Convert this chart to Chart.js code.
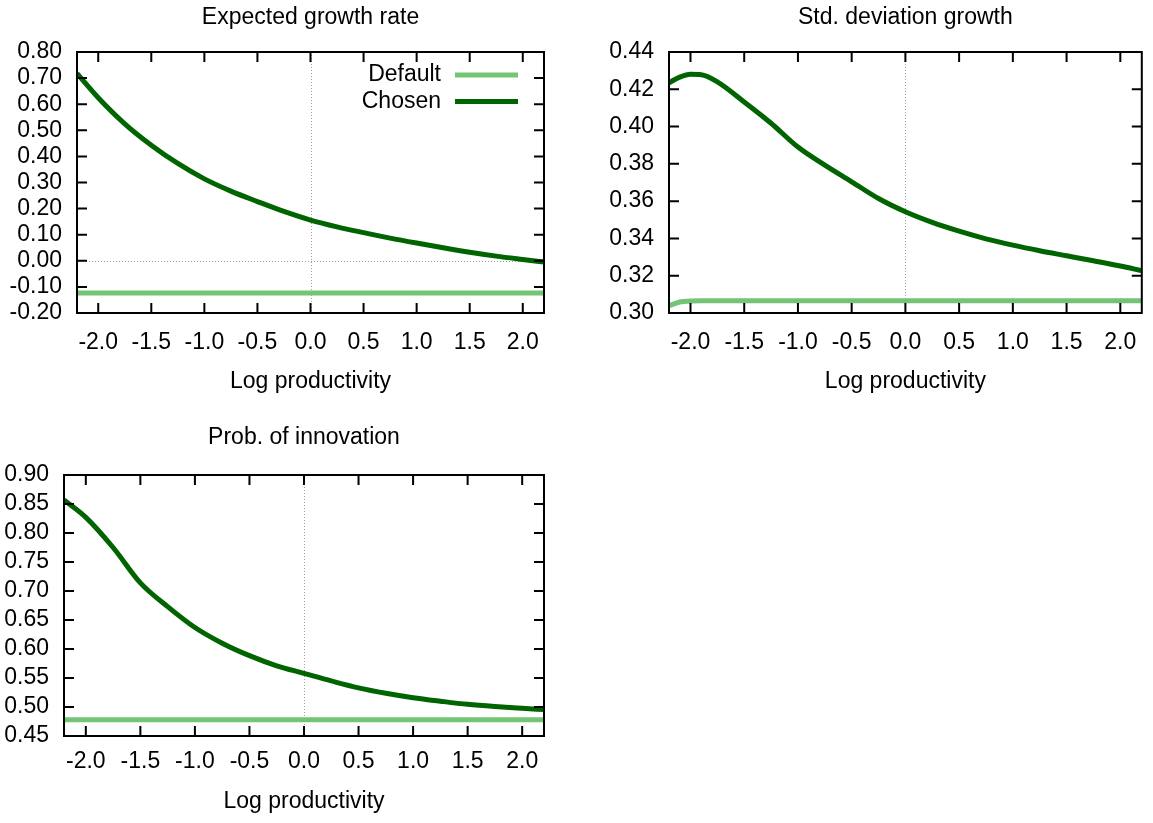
<!DOCTYPE html>
<html>
<head>
<meta charset="utf-8">
<script src="https://cdn.jsdelivr.net/npm/chart.js@4.4.1/dist/chart.umd.min.js"></script>
<style>
  body { margin: 0; background: #fff; width: 1153px; height: 823px; position: relative; overflow: hidden; }
  canvas { position: absolute; }
</style>
</head>
<body>
<canvas id="growth" width="560" height="400" style="left:0;top:0"></canvas>
<canvas id="stdev" width="563" height="400" style="left:590px;top:0"></canvas>
<canvas id="innov" width="560" height="403" style="left:0;top:420px"></canvas>
<script>
// x positions (log productivity)
const xGrid = [-2.2, -2.0, -1.75, -1.5, -1.25, -1.0, -0.75, -0.5, -0.25, 0, 0.25, 0.5, 0.75, 1.0, 1.25, 1.5, 1.75, 2.0, 2.2];
const xGridStd = [-2.2, -2.1, -2.0, -1.9, -1.75, -1.5, -1.25, -1.0, -0.75, -0.5, -0.25, 0, 0.25, 0.5, 0.75, 1.0, 1.25, 1.5, 1.75, 2.0, 2.2];

// expected growth rate
const growthDefault = [-0.123, -0.123, -0.123, -0.123, -0.123, -0.123, -0.123, -0.123, -0.123, -0.123, -0.123, -0.123, -0.123, -0.123, -0.123, -0.123, -0.123, -0.123, -0.123];
const growthChosen = [0.718, 0.625, 0.525, 0.443, 0.373, 0.314, 0.267, 0.227, 0.189, 0.156, 0.130, 0.108, 0.087, 0.068, 0.050, 0.033, 0.018, 0.005, -0.005];

// std. deviation growth
const stdDefault = [0.3039, 0.3059, 0.3064, 0.3066, 0.3066, 0.3066, 0.3066, 0.3066, 0.3066, 0.3066, 0.3066, 0.3066, 0.3066, 0.3066, 0.3066, 0.3066, 0.3066, 0.3066, 0.3066, 0.3066, 0.3066];
const stdChosen = [0.4235, 0.4265, 0.4280, 0.4278, 0.4240, 0.4132, 0.4018, 0.3890, 0.3793, 0.3704, 0.3614, 0.3543, 0.3486, 0.3439, 0.3398, 0.3364, 0.3334, 0.3307, 0.3280, 0.3252, 0.3227];

// prob. of innovation
const innovDefault = [0.478, 0.478, 0.478, 0.478, 0.478, 0.478, 0.478, 0.478, 0.478, 0.478, 0.478, 0.478, 0.478, 0.478, 0.478, 0.478, 0.478, 0.478, 0.478];
const innovChosen = [0.857, 0.827, 0.775, 0.714, 0.673, 0.637, 0.610, 0.5885, 0.571, 0.558, 0.545, 0.533, 0.5236, 0.516, 0.510, 0.5046, 0.5008, 0.4978, 0.4956];

// tick labels
const xTicks = [-2.0, -1.5, -1.0, -0.5, 0.0, 0.5, 1.0, 1.5, 2.0];
const growthTicks = [-0.2, -0.1, 0.0, 0.1, 0.2, 0.3, 0.4, 0.5, 0.6, 0.7, 0.8];
const stdTicks = [0.30, 0.32, 0.34, 0.36, 0.38, 0.40, 0.42, 0.44];
const innovTicks = [0.45, 0.50, 0.55, 0.60, 0.65, 0.70, 0.75, 0.80, 0.85, 0.90];

const LIGHT = '#74c476';
const DARK = '#006400';
const FONT = '"Liberation Sans", Arial, sans-serif';

Chart.defaults.font.family = FONT;
Chart.defaults.font.size = 23;
Chart.defaults.color = '#000';

// gnuplot-like frame: zero lines, box, inward ticks on all sides, key
const framePlugin = {
  id: 'frame',
  beforeDatasetsDraw(chart) {
    const {ctx, chartArea: a, scales: {x, y}} = chart;
    ctx.save();
    ctx.strokeStyle = '#a0a0a0';
    ctx.lineWidth = 1;
    ctx.setLineDash([1, 2]);
    ctx.beginPath();
    if (y.min <= 0 && y.max >= 0) {
      const py = Math.round(y.getPixelForValue(0)) + 0.5;
      ctx.moveTo(a.left, py); ctx.lineTo(a.right, py);
    }
    const px = Math.round(x.getPixelForValue(0)) + 0.5;
    ctx.moveTo(px, a.top); ctx.lineTo(px, a.bottom);
    ctx.stroke();
    ctx.restore();
  },
  afterDatasetsDraw(chart, args, opts) {
    const {ctx, chartArea: a, scales: {x, y}} = chart;
    const tl = 10;
    ctx.save();
    ctx.strokeStyle = '#000';
    ctx.lineWidth = 2;
    ctx.beginPath();
    x.ticks.forEach(t => {
      const px = x.getPixelForValue(t.value);
      ctx.moveTo(px, a.bottom); ctx.lineTo(px, a.bottom - tl);
      ctx.moveTo(px, a.top); ctx.lineTo(px, a.top + tl);
    });
    y.ticks.forEach(t => {
      const py = y.getPixelForValue(t.value);
      ctx.moveTo(a.left, py); ctx.lineTo(a.left + tl, py);
      ctx.moveTo(a.right, py); ctx.lineTo(a.right - tl, py);
    });
    ctx.stroke();
    ctx.strokeRect(a.left, a.top, a.right - a.left, a.bottom - a.top);

    if (opts.legend) {
      ctx.font = '23px ' + FONT;
      ctx.textAlign = 'right';
      ctx.textBaseline = 'middle';
      ctx.fillStyle = '#000';
      chart.data.datasets.forEach((ds, i) => {
        const ly = a.top + 23 + i * 26.5;
        ctx.fillText(ds.label, a.right - 103, ly);
        ctx.beginPath();
        ctx.strokeStyle = ds.borderColor;
        ctx.lineWidth = 5;
        ctx.moveTo(a.right - 89, ly); ctx.lineTo(a.right - 26, ly);
        ctx.stroke();
      });
    }
    ctx.restore();
  }
};

function makeChart(id, cfg) {
  const pts = ys => cfg.xs.map((v, i) => ({x: v, y: ys[i]}));
  return new Chart(document.getElementById(id), {
    type: 'line',
    data: {
      datasets: [
        {label: 'Default', data: pts(cfg.deflt), borderColor: LIGHT, borderWidth: 5},
        {label: 'Chosen', data: pts(cfg.chosen), borderColor: DARK, borderWidth: 5}
      ]
    },
    options: {
      responsive: false,
      animation: false,
      devicePixelRatio: 1,
      elements: {
        point: {radius: 0},
        line: {cubicInterpolationMode: 'monotone', borderJoinStyle: 'round', borderCapStyle: 'butt'}
      },
      layout: {padding: {left: 0, right: cfg.padRight, top: 0, bottom: 0}},
      plugins: {
        legend: {display: false},
        tooltip: {enabled: false},
        title: {display: true, text: cfg.title, fullSize: false, font: {size: 23, weight: 'normal'},
                padding: {top: 4.2, bottom: cfg.titleBottom}},
        frame: {legend: !!cfg.legend}
      },
      scales: {
        x: {
          type: 'linear', min: -2.2, max: 2.2,
          grid: {display: false, drawTicks: false}, border: {display: false},
          afterBuildTicks: s => { s.ticks = xTicks.map(v => ({value: v})); },
          afterFit: s => { s.height = 87; },
          ticks: {autoSkip: false, maxRotation: 0, padding: cfg.xPad, callback: v => v.toFixed(1)},
          title: {display: true, text: 'Log productivity', padding: {top: 0, bottom: cfg.xTitleBottom}}
        },
        y: {
          min: cfg.yMin, max: cfg.yMax,
          grid: {display: false, drawTicks: false}, border: {display: false},
          afterBuildTicks: s => { s.ticks = cfg.yTicks.map(v => ({value: v})); },
          afterFit: s => { s.width = cfg.yWidth; },
          ticks: {autoSkip: false, padding: 15, callback: v => v.toFixed(2)}
        }
      }
    },
    plugins: [framePlugin]
  });
}

makeChart('growth', {
  xs: xGrid, deflt: growthDefault, chosen: growthChosen,
  yMin: -0.2, yMax: 0.8, yTicks: growthTicks, title: 'Expected growth rate',
  yWidth: 77, padRight: 16, titleBottom: 20.2, xPad: 16.2, xTitleBottom: 4.7, legend: true
});

makeChart('stdev', {
  xs: xGridStd, deflt: stdDefault, chosen: stdChosen,
  yMin: 0.30, yMax: 0.44, yTicks: stdTicks, title: 'Std. deviation growth',
  yWidth: 79, padRight: 4, titleBottom: 20.2, xPad: 16.2, xTitleBottom: 4.7
});

makeChart('innov', {
  xs: xGrid, deflt: innovDefault, chosen: innovChosen,
  yMin: 0.45, yMax: 0.90, yTicks: innovTicks, title: 'Prob. of innovation',
  yWidth: 64, padRight: 16, titleBottom: 23.2, xPad: 11.5, xTitleBottom: 7.2
});
</script>
</body>
</html>
